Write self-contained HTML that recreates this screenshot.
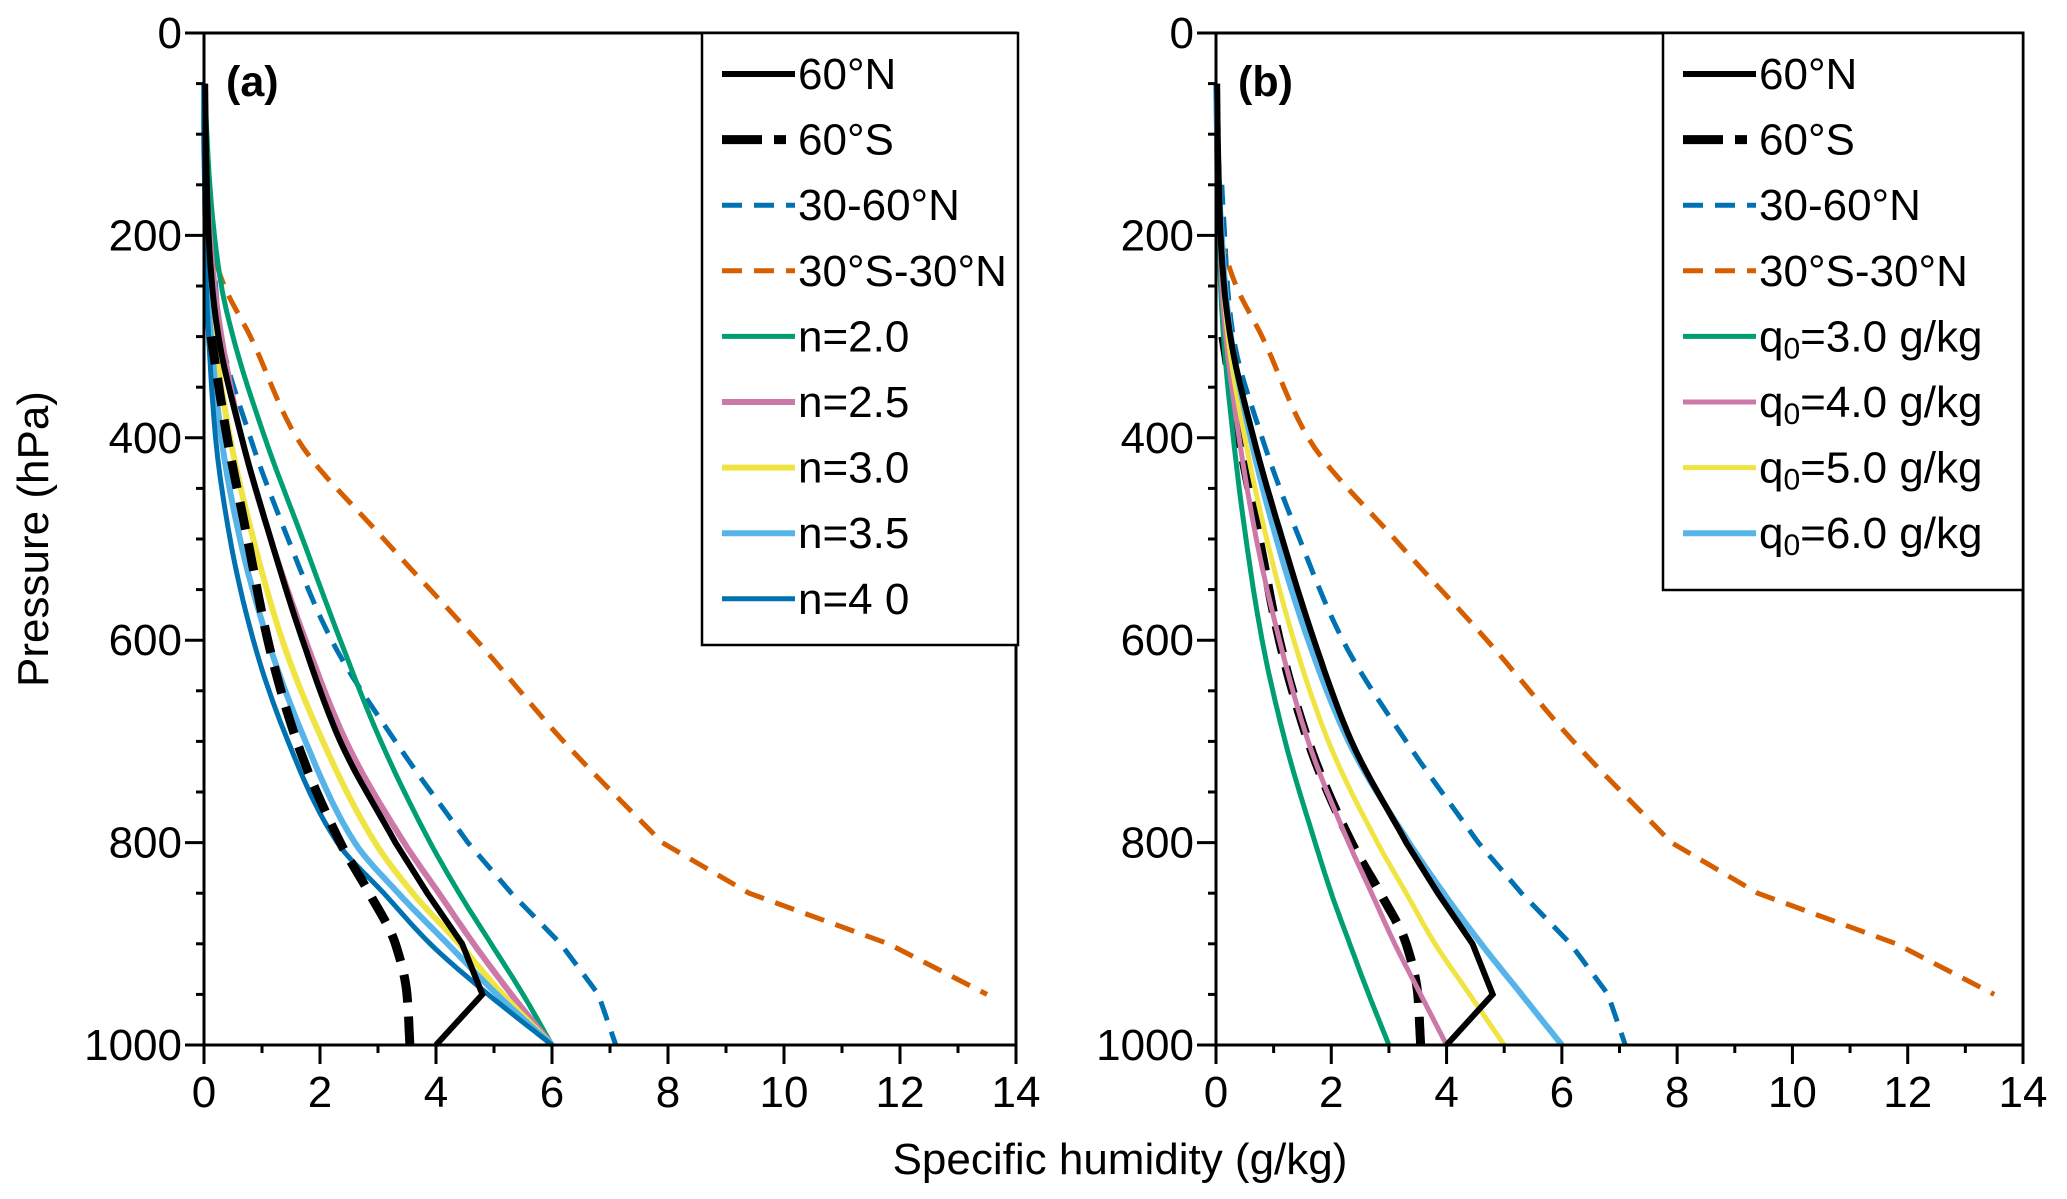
<!DOCTYPE html>
<html><head><meta charset="utf-8"><style>
body{margin:0;background:#fff}
svg text{font-family:"Liberation Sans",Arial,sans-serif}
</style></head><body>
<svg id="chart" width="2067" height="1194" viewBox="0 0 2067 1194" xmlns="http://www.w3.org/2000/svg"></svg>
<script>
const levels = [50,100,150,200,250,300,400,500,600,700,800,850,900,950,1000];
const q60N   = [0.02,0.03,0.05,0.08,0.14,0.25,0.65,1.15,1.7,2.35,3.3,3.85,4.45,4.8,4.0];
const q60S   = [null,null,null,null,null,0.12,0.4,0.75,1.1,1.6,2.35,2.85,3.3,3.5,3.55];
const q3060N = [null,null,0.1,0.15,0.2,0.3,0.8,1.45,2.2,3.3,4.55,5.3,6.15,6.8,7.1];
const qTrop  = [null,null,null,0.05,0.35,0.8,1.6,3.1,4.7,6.2,7.9,9.4,11.8,13.5,null];
const nA20 = [0.01,0.05,0.1,0.18,0.3,0.5,1.05,1.7,2.35,3.05,3.9,4.4,4.95,5.5,6.0];
const nA25 = [0.0,0.02,0.05,0.1,0.18,0.3,0.65,1.15,1.75,2.45,3.45,4.05,4.65,5.3,6.0];
const nA30 = [0.0,0.01,0.03,0.06,0.1,0.18,0.45,0.85,1.35,2.05,2.95,3.6,4.4,5.15,6.0];
const nA35 = [0.0,0.0,0.02,0.03,0.06,0.12,0.3,0.62,1.1,1.75,2.6,3.35,4.2,5.05,6.0];
const nA40 = [0.0,0.0,0.01,0.02,0.04,0.08,0.2,0.45,0.85,1.45,2.3,3.1,3.9,4.9,6.0];
const qB3 = [0.0,0.01,0.02,0.05,0.08,0.13,0.3,0.52,0.8,1.2,1.72,2.0,2.32,2.65,3.0];
const qB4 = [0.0,0.01,0.03,0.07,0.1,0.17,0.4,0.7,1.1,1.6,2.3,2.7,3.1,3.55,4.0];
const qB5 = [0.0,0.02,0.04,0.08,0.13,0.21,0.5,0.88,1.35,1.95,2.8,3.3,3.8,4.4,5.0];
const qB6 = [0.0,0.02,0.05,0.1,0.16,0.26,0.6,1.05,1.6,2.3,3.35,3.95,4.6,5.3,6.0];
const xTicks = [0,2,4,6,8,10,12,14];
const yTicks = [0,200,400,600,800,1000];

const NS="http://www.w3.org/2000/svg";
const svg=document.getElementById('chart');
function mk(tag,attrs,parent){const e=document.createElementNS(NS,tag);for(const k in attrs)e.setAttribute(k,attrs[k]);(parent||svg).appendChild(e);return e;}

const y0=33, y1=1045;
function yScale(p){return y0+(p/1000)*(y1-y0);}

// monotone cubic (Fritsch-Carlson) of q as a function of p, sampled
function buildPath(data,xs,kink){
  const P=[],Q=[];
  data.forEach((q,i)=>{if(q!==null){P.push(levels[i]);Q.push(q);}});
  const n=P.length; if(n<2)return '';
  const d=[],m=new Array(n);
  for(let i=0;i<n-1;i++)d.push((Q[i+1]-Q[i])/(P[i+1]-P[i]));
  m[0]=d[0];m[n-1]=d[n-2];
  for(let i=1;i<n-1;i++){
    if(d[i-1]*d[i]<=0)m[i]=0;
    else{const h0=P[i]-P[i-1],h1=P[i+1]-P[i];const w1=2*h1+h0,w2=h1+2*h0;m[i]=(w1+w2)/(w1/d[i-1]+w2/d[i]);}
  }
  let s='M'+xs(Q[0]).toFixed(1)+','+yScale(P[0]).toFixed(1);
  for(let i=0;i<n-1;i++){
    const h=P[i+1]-P[i];
    if(kink && P[i]>=800){s+='L'+xs(Q[i+1]).toFixed(1)+','+yScale(P[i+1]).toFixed(1);continue;}
    let mi=m[i],mj=m[i+1];
    if(kink && P[i+1]>=800) mj=d[i];
    const steps=10;
    for(let k=1;k<=steps;k++){
      const t=k/steps,t2=t*t,t3=t2*t;
      const q=(2*t3-3*t2+1)*Q[i]+(t3-2*t2+t)*h*mi+(-2*t3+3*t2)*Q[i+1]+(t3-t2)*h*mj;
      s+='L'+xs(q).toFixed(1)+','+yScale(P[i]+t*h).toFixed(1);
    }
  }
  return s;
}

function drawPanel(name,x0,x1,series,legend,lx0,lx1,ly1,label){
  const xs=q=>x0+q/14*(x1-x0);
  const g=mk('g',{});
  
  
  series.forEach(s=>{
    const p=mk('path',{d:buildPath(s.data,xs,s.kink),fill:'none',stroke:s.color,'stroke-width':s.w,'stroke-dasharray':s.dash||'none','stroke-linejoin':'miter'},g);
    
    
  });
  const fr=mk('rect',{x:x0,y:y0,width:x1-x0,height:y1-y0,fill:'none',stroke:'#000','stroke-width':3},g);
  
  
  for(let v=0;v<=14;v++){
    mk('line',{x1:xs(v),x2:xs(v),y1:y1,y2:y1+(v%2?8:19),stroke:'#000','stroke-width':3},g);
  }
  xTicks.forEach(v=>{
    const t=mk('text',{x:xs(v),y:y1+62,'font-size':44,'text-anchor':'middle'},g);
    t.textContent=v;
    
    
  });
  for(let p=0;p<=1000;p+=50){
    mk('line',{x1:x0,x2:x0-(p%200?8:19),y1:yScale(p),y2:yScale(p),stroke:'#000','stroke-width':3},g);
  }
  yTicks.forEach(v=>{
    const t=mk('text',{x:x0-22,y:yScale(v)+15,'font-size':44,'text-anchor':'end'},g);
    t.textContent=v;
    
    
  });
  const pl=mk('text',{x:x0+22,y:96,'font-size':43,'font-weight':'bold'},g);
  pl.textContent=label;
  
  
  const lg=mk('g',{},g);
  
  
  mk('rect',{x:lx0,y:y0,width:lx1-lx0,height:ly1-y0,fill:'#fff',stroke:'#000','stroke-width':2.5},lg);
  legend.forEach((s,i)=>{
    const yy=74+i*65.6;
    const e=mk('g',{},lg);
    
    
    mk('line',{x1:lx0+20,x2:lx0+93,y1:yy,y2:yy,stroke:s.color,'stroke-width':s.w,'stroke-dasharray':s.ldash||s.dash||'none'},e);
    const t=mk('text',{x:lx0+96,y:yy+15,'font-size':44},e);
    if(s.sub){t.innerHTML='q<tspan font-size="30" dy="7">0</tspan><tspan dy="-7">'+s.label+'</tspan>';}
    else t.textContent=s.label;
  });
}
const base=[
 {id:'30-60N',data:q3060N,color:'#0072b2',w:5,dash:'20,12',label:'30-60°N',ldash:'20,12',kink:1},
 {id:'30S-30N',data:qTrop,color:'#d55e00',w:5,dash:'20,12',label:'30°S-30°N',kink:1},
];
const n60N={id:'60N',data:q60N,color:'#000',w:6,label:'60°N',kink:1};
const n60S={id:'60S',data:q60S,color:'#000',w:9,dash:'28,14',label:'60°S',ldash:'40,12,12,12'};
const aSeries=[
 {id:'n-2.0',data:nA20,color:'#009e73',w:5,label:'n=2.0'},
 {id:'n-2.5',data:nA25,color:'#cc79a7',w:6,label:'n=2.5'},
 {id:'n-3.0',data:nA30,color:'#f0e442',w:6,label:'n=3.0'},
 {id:'n-3.5',data:nA35,color:'#56b4e9',w:6,label:'n=3.5'},
 {id:'n-4.0',data:nA40,color:'#0072b2',w:5,label:'n=4 0'},
];
const bSeries=[
 {id:'q0-3',data:qB3,color:'#009e73',w:5,label:'=3.0 g/kg',sub:1},
 {id:'q0-4',data:qB4,color:'#cc79a7',w:5,label:'=4.0 g/kg',sub:1},
 {id:'q0-5',data:qB5,color:'#f0e442',w:5,label:'=5.0 g/kg',sub:1},
 {id:'q0-6',data:qB6,color:'#56b4e9',w:6,label:'=6.0 g/kg',sub:1},
];
drawPanel('a',204,1016,[...base,...aSeries,n60S,n60N],[n60N,n60S,...base,...aSeries],702,1018,645,'(a)');
drawPanel('b',1216,2023,[...base,n60S,...bSeries,n60N],[n60N,n60S,...base,...bSeries],1663,2023,590,'(b)');

const xt=mk('text',{x:1120,y:1174,'font-size':44,'text-anchor':'middle'});
xt.textContent='Specific humidity (g/kg)';


const yt=mk('text',{x:0,y:0,'font-size':44,'text-anchor':'middle',transform:'translate(48,539) rotate(-90)'});
yt.textContent='Pressure (hPa)';


</script>
</body></html>
